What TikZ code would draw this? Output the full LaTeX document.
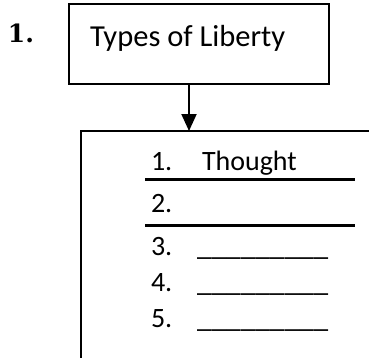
\documentclass[tikz,border=0pt]{standalone}
\usepackage{fontspec}
\setmainfont{Carlito}
\newfontfamily\numfont{DejaVu Serif}
\usetikzlibrary{arrows.meta}
\tikzset{
  x=1pt, y=-1pt,
  boxline/.style={line width=1.5pt},
  rule/.style={line width=3pt},
  titlefont/.style={font=\fontsize{30.5}{36}\selectfont},
  listfont/.style={font=\fontsize{28}{34}\selectfont},
  blankfont/.style={font=\fontsize{29.3}{34}\selectfont},
  txt/.style={anchor=base west, inner sep=0pt, outer sep=0pt},
}
\begin{document}
\begin{tikzpicture}
\useasboundingbox (0,0) rectangle (369,357);
\clip (0,0) rectangle (369,357);
% question number
\node[txt, font=\numfont\bfseries\fontsize{25}{30}\selectfont] (qnum) at (8,42) {1.};
% title box
\draw[boxline] (69,4) rectangle (329,84);
\node[txt, titlefont] (title) at (90,46) {Types of Liberty};
\coordinate (tb) at (189,84);
% list box (cut off by the page)
\draw[boxline] (81,420) -- (81,131) -- (420,131);
\coordinate (lt) at (189,131);
\draw[line width=2pt, -{Triangle[length=17pt,width=15pt]}] (tb) -- (lt);
% items
\node[txt, listfont] (i1) at (151,170) {1.};
\node[txt, listfont] (t1) at (202,170) {Thought};
\draw[rule] (145,179) -- (355,179);
\node[txt, listfont] (i2) at (151,212) {2.};
\draw[rule] (145,225) -- (355,225);
\node[txt, listfont] (i3) at (151,255) {3.};
\node[txt, blankfont] (u3) at (197,255) {\_\_\_\_\_\_\_\_\_};
\node[txt, listfont] (i4) at (151,291) {4.};
\node[txt, blankfont] (u4) at (197,291) {\_\_\_\_\_\_\_\_\_};
\node[txt, listfont] (i5) at (151,327) {5.};
\node[txt, blankfont] (u5) at (197,327) {\_\_\_\_\_\_\_\_\_};
\end{tikzpicture}
\end{document}
